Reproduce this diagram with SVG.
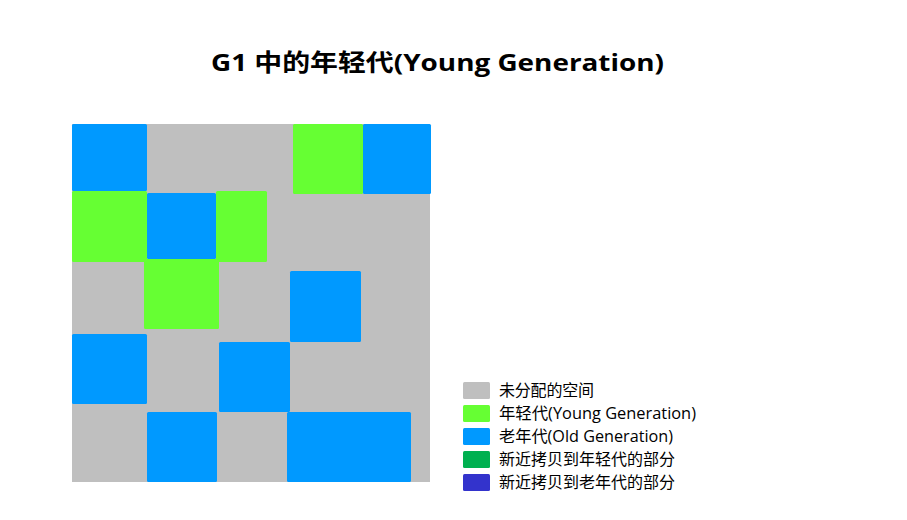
<svg xmlns="http://www.w3.org/2000/svg" width="907" height="520" viewBox="0 0 907 520">
<style>
.t{font-family:"Open Sans","Noto Sans CJK SC",sans-serif;fill:#000}
.title{font-size:24px;font-weight:bold}
.lg{font-size:16px}
.u{fill:#BFBFBF}
.y{fill:#66FF33}
.o{fill:#0099FF}
.cy{fill:#00B050}
.co{fill:#3333CC}
</style>
<rect width="907" height="520" fill="#fff"/>
<text class="t title" x="211" y="71" textLength="453" lengthAdjust="spacingAndGlyphs">G1 中的年轻代(Young Generation)</text>
<g id="heap">
<rect class="u" x="72" y="124" width="358" height="358"/>
<rect class="o" x="72" y="124" width="75" height="67" rx="1.5"/>
<rect class="y" x="293" y="124" width="70" height="70" rx="1.5"/>
<rect class="o" x="363" y="124" width="68" height="70" rx="1.5"/>
<rect class="y" x="72" y="191" width="75" height="71" rx="1.5"/>
<rect class="o" x="147" y="193" width="69" height="66" rx="1.5"/>
<rect class="y" x="216" y="191" width="51" height="71" rx="1.5"/>
<rect class="y" x="144" y="259" width="75" height="70" rx="1.5"/>
<rect class="o" x="290" y="271" width="71" height="71" rx="1.5"/>
<rect class="o" x="72" y="334" width="75" height="70" rx="1.5"/>
<rect class="o" x="219" y="342" width="71" height="70" rx="1.5"/>
<rect class="o" x="147" y="412" width="70" height="70" rx="1.5"/>
<rect class="o" x="287" y="412" width="124" height="70" rx="1.5"/>
</g>
<g id="legend">
<rect class="u" x="463" y="382" width="27" height="17" rx="1.5"/>
<text class="t lg" x="499" y="396" textLength="95">未分配的空间</text>
<rect class="y" x="463" y="405" width="27" height="17" rx="1.5"/>
<text class="t lg" x="499" y="419" textLength="197" lengthAdjust="spacingAndGlyphs">年轻代(Young Generation)</text>
<rect class="o" x="463" y="428" width="27" height="17" rx="1.5"/>
<text class="t lg" x="499" y="442" textLength="174" lengthAdjust="spacingAndGlyphs">老年代(Old Generation)</text>
<rect class="cy" x="463" y="451" width="27" height="17" rx="1.5"/>
<text class="t lg" x="499" y="465" textLength="176">新近拷贝到年轻代的部分</text>
<rect class="co" x="463" y="474" width="27" height="17" rx="1.5"/>
<text class="t lg" x="499" y="488" textLength="176">新近拷贝到老年代的部分</text>
</g>
</svg>
